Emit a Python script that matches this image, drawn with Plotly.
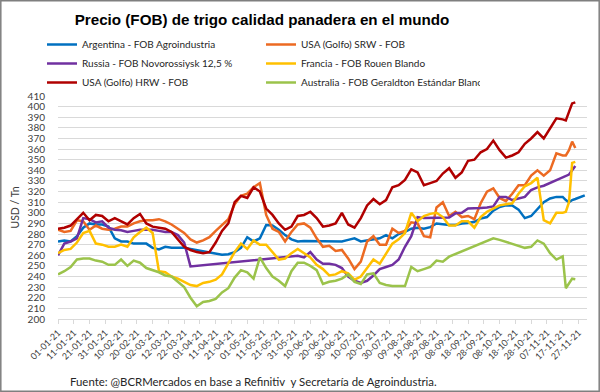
import plotly.graph_objects as go

# ---------------- data ----------------
dates = ["2021-01-01","2021-01-05","2021-01-09","2021-01-13","2021-01-17","2021-01-21","2021-01-25","2021-01-29","2021-02-02","2021-02-06",
         "2021-02-10","2021-02-14","2021-02-18","2021-02-22","2021-02-26","2021-03-02","2021-03-06","2021-03-10","2021-03-14","2021-03-18",
         "2021-03-22","2021-03-26","2021-03-30","2021-04-03","2021-04-07","2021-04-11","2021-04-15","2021-04-19","2021-04-23","2021-04-27",
         "2021-05-01","2021-05-05","2021-05-09","2021-05-13","2021-05-17","2021-05-21","2021-05-25","2021-05-29","2021-06-02","2021-06-06",
         "2021-06-10","2021-06-14","2021-06-18","2021-06-22","2021-06-26","2021-06-30","2021-07-04","2021-07-08","2021-07-12","2021-07-16",
         "2021-07-20","2021-07-24","2021-07-28","2021-08-01","2021-08-05","2021-08-09","2021-08-13","2021-08-17","2021-08-21","2021-08-25",
         "2021-08-29","2021-09-02","2021-09-06","2021-09-10","2021-09-14","2021-09-18","2021-09-22","2021-09-26","2021-09-30","2021-10-04",
         "2021-10-08","2021-10-12","2021-10-16","2021-10-20","2021-10-24","2021-10-28","2021-11-01","2021-11-05","2021-11-09","2021-11-13",
         "2021-11-17","2021-11-19","2021-11-21","2021-11-23","2021-11-25","2021-11-28","2021-12-01"]

argentina = [273,274,273,278,286,290,289,289,287,276,
             273,273,271,271,271,267,265.5,268,267,267,
             267,266,265,264,263,262,260.5,261,263,267,
             277,273,276,288.5,288,284,279,275,273,273.5,
             273.5,273.5,273,273,273,273,274.5,276,273,274,
             275,276,279,276,280,282,285,286,285,286.5,
             290,289,288.5,288.5,290,290.5,291.5,294.5,296,302,
             305.5,307,307,303,295,297,303,310,313.5,315,
             315,312,310,312,313,314.5,316.5]

usa_srw = [284,282,283,293,292,284,288,285,284,285,
           287,287,290,292,293,293,294,292,289,285,
           281,275,272,274,277,283,289,294,308,316,
           318,324,328,298,285,282,273,282,289,290,
           286,276,268,269,264,265,257,247,254,273,
           278,270,270,285,281,283,291,290,278,277,
           305,310,297,301,296,297,294,309,320,323,
           314,311,318,326,326,335,340,335,340,356,
           354,354,359,367,361,None,None]

russia = [260,271,273,276,295,294,291,292,286,284,
          283.5,282,283,284,284,284,283,282,282,279,
          272,249.5,None,None,None,None,None,None,None,None,
          None,None,None,None,None,None,None,None,259.5,258,
          263,256,252,252,251,248,240,236,234,236,
          241,247,249,251,256,268,278,296,295,295,
          295,295,295.5,299.5,300,304,304,304.5,305,306,
          315,315,312,313.5,315,321.5,324,325.5,328,331,
          333,334,336,340,344,None,None]

francia = [262,265,266,272,281,283,271,270,268,268,
           270,268,277,282,286,281,245,244,240,238,
           235,232,231,234,235,237,242,253,263,271,
           266,274,270,270,263,256,257,262,266,262,
           258,251,247,241,242,245,243,237,240,248,
           256,252,262,271,275,281,300,292,297,299,
           300,296,288,288,292,292,286,296,301,304,
           307,308,309,318,325,328,333,293,290,300,
           300,301,310,347,348,None,None]

usa_hrw = [285,286,288,294,300,293,298,297,292,295,
           292,289,295,299,290,287,286,285,282,275,
           268,265,263,262,263,272,283,290,310,316,
           314,324,320,304,298,290,284,287,297,298,
           301,295,287,288,290,300,289,286,295,307,
           313,308,312,324,326,331,341,338,326,328,
           330,337,342,333,338,349,350,357,360,368,
           359,352,354,357,365,370,376,370,380,389,
           388,387,395,403,404,None,None]

australia = [242,245,249,256,257,257,255,254,251,251,
             256,250,255,253,248,246,244,241,240,235,
             230,220,212,216,217,219,225,229,239,246,
             244,238,258,248,240,236,231,245,253,253,
             250,246,233,235,236,238,242,235,233,242,
             243,234,232,231,231,231,249,245,247,249,
             255,254,258.7,None,None,None,None,None,None,276,
             274.5,272.5,271,269,267,268,274,271,262,256,
             259,229,234,238,237.5,None,None]

series_names = ["Argentina - FOB Agroindustria", "USA (Golfo) SRW - FOB",
                "Russia - FOB Novorossiysk 12,5 %", "Francia - FOB Rouen Blando",
                "USA (Golfo) HRW - FOB", "Australia - FOB Geraldton Estándar Blanco"]
series_values = [argentina, usa_srw, russia, francia, usa_hrw, australia]
series_colors = ["#0070C0", "#EC6A22", "#7030A0", "#FFC000", "#B00000", "#9BC34B"]

title_text = "Precio (FOB) de trigo calidad panadera en el mundo"
source_text = "Fuente: @BCRMercados en base a Refinitiv  y Secretaría de Agroindustria."
y_title = "USD / Tn"

# ---------------- figure ----------------
W, H = 600, 392
ML, MR, MT, MB = 58, 13, 96, 73
PW, PH = W - ML - MR, H - MT - MB

def px_x(p):
    return (p - ML) / PW

def px_y(p):
    return (H - MB - p) / PH

fig = go.Figure()
for name, vals, col in zip(series_names, series_values, series_colors):
    fig.add_trace(go.Scatter(x=dates, y=vals, name=name, mode="lines",
                             line=dict(color=col, width=2.5), connectgaps=True))

body_font = "Lato, Carlito, Calibri, sans-serif"

fig.update_layout(
    width=W, height=H,
    margin=dict(l=ML, r=MR, t=MT, b=MB, autoexpand=False),
    paper_bgcolor="white", plot_bgcolor="white",
    font=dict(family=body_font, color="#404040", size=11),
    title=dict(text="<b>" + title_text + "</b>", x=262 / W, xanchor="center",
               y=1 - 20 / H, yanchor="middle",
               font=dict(family="Liberation Sans, Arial, sans-serif",
                         size=15.2, color="black")),
    legend=dict(orientation="h", x=px_x(42), xanchor="left", y=px_y(30), yanchor="top",
                entrywidth=174, entrywidthmode="pixels", bgcolor="rgba(0,0,0,0)",
                font=dict(size=10, color="#262626"), itemwidth=30),
    xaxis=dict(type="date", range=["2021-01-01", "2021-12-02 10:00"],
               tick0="2021-01-01", dtick=864000000, tickformat="%d-%m-%y",
               tickangle=-45, showgrid=False, showline=True, linecolor="#d9d9d9",
               linewidth=1, ticks="outside", ticklen=4, tickcolor="#d9d9d9",
               automargin=False,
               tickfont=dict(size=9, color="#404040")),
    yaxis=dict(range=[200, 410], tick0=200, dtick=10, showgrid=True,
               gridcolor="#d9d9d9", gridwidth=1, zeroline=False, showline=False,
               automargin=False,
               ticklabelstandoff=12, tickfont=dict(size=10, color="#404040"),
               title=dict(text=y_title, font=dict(size=10.5, color="#404040"), standoff=5)),
    showlegend=True,
)

fig.add_annotation(text=source_text, xref="paper", yref="paper",
                   x=px_x(68), y=px_y(381), xanchor="left", yanchor="middle",
                   showarrow=False, font=dict(size=11.4, color="#262626"))

fig.add_shape(type="rect", xref="paper", yref="paper",
              x0=px_x(0.8), x1=px_x(W - 0.8), y0=px_y(H - 0.8), y1=px_y(0.8),
              line=dict(color="#7f7f7f", width=1.5), fillcolor="rgba(0,0,0,0)", layer="above")

fig.write_html("out.html", config={"displayModeBar": False},
               post_script="document.body.style.margin='0';")
